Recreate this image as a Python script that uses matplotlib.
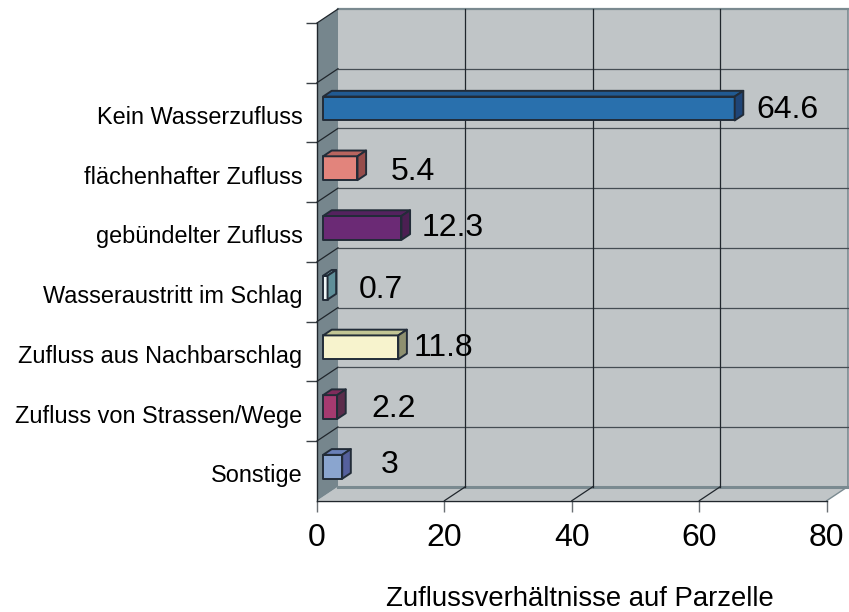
import matplotlib
matplotlib.use("Agg")
import matplotlib.pyplot as plt
from matplotlib.patches import Polygon

plt.rcParams['font.family'] = ['Liberation Sans', 'DejaVu Sans']

# Chart data, bottom to top
categories = ['Sonstige', 'Zufluss von Strassen/Wege', 'Zufluss aus Nachbarschlag',
              'Wasseraustritt im Schlag', 'gebündelter Zufluss',
              'flächenhafter Zufluss', 'Kein Wasserzufluss']
values = [3, 2.2, 11.8, 0.7, 12.3, 5.4, 64.6]
value_text = ['3', '2.2', '11.8', '0.7', '12.3', '5.4', '64.6']
x_ticks = [0, 20, 40, 60, 80]
x_title = 'Zuflussverhältnisse auf Parzelle'

# Bar colours: front, top, side
front_colors = ['#8aa5cf', '#a53a70', '#f7f3cd', '#eef4f5', '#6b2a75', '#e2847c', '#2970ad']
top_colors = ['#6a80b8', '#7f2c5c', '#c2c594', '#8fbcc0', '#54225e', '#b8655f', '#215a92']
side_colors = ['#55609c', '#5b2c4b', '#8e9070', '#5f8f99', '#4b1f52', '#964d4b', '#1f4577']

# Data labels sit by hand in the original (pixels from bar end)
label_dx = [39, 48, 37, 45, 43, 47, 44]
label_dy = [-4, -8, -6, -8, -6, -10, -7]

WALL = '#c0c5c7'
SIDE = '#76868d'
EDGE = '#7a8a90'
DARK = '#20262c'
BAR_EDGE = '#222c38'

# 3D depth of the chart box in data units
DEPTH_X = 21 / 6.369
DEPTH_Y = 14 / 59.7


def project(v, c, d):
    return (v + d * DEPTH_X, c + d * DEPTH_Y)


fig = plt.figure(figsize=(8.49, 6.12), dpi=100)
ax = fig.add_axes([317 / 849, (612 - 500.7) / 612, 509.7 / 849, 477.7 / 612])
ax.set_xlim(0, 80)
ax.set_ylim(0, 8)
ax.patch.set_visible(False)
for s in ['top', 'right']:
    ax.spines[s].set_visible(False)
for s in ['left', 'bottom']:
    ax.spines[s].set_color(DARK)
    ax.spines[s].set_linewidth(1.0)
    ax.spines[s].set_zorder(6)


def face(points, color, edge='none', lw=0.0, z=1):
    ax.add_patch(Polygon(points, closed=True, facecolor=color, edgecolor=edge,
                         linewidth=lw, clip_on=False, zorder=z, joinstyle='round'))


def line(a, b, color, lw=1.0, z=2):
    ax.plot([a[0], b[0]], [a[1], b[1]], color=color, lw=lw, clip_on=False, zorder=z)


# Box walls
face([project(0, 0, 1), project(80, 0, 1), project(80, 8, 1), project(0, 8, 1)], WALL)
face([project(0, 0, 0), project(80, 0, 0), project(80, 0, 1), project(0, 0, 1)], WALL)
face([project(0, 0, 0), project(0, 0, 1), project(0, 8, 1), project(0, 8, 0)], SIDE)
line(project(0, 8, 1), project(80, 8, 1), EDGE, 1.6)
line(project(80, 0, 1), project(80, 8, 1), EDGE, 1.2)
line(project(0, 0, 1), project(80, 0, 1), EDGE, 2.2)
line(project(80, 0, 0), project(80, 0, 1), EDGE, 1.0)

# Gridlines on the walls
for c in range(1, 9):
    line(project(0, c, 0), project(0, c, 1), DARK, 0.9)
    if c < 8:
        line(project(0, c, 1), project(80, c, 1), '#454d53', 0.9)
for v in x_ticks[1:-1]:
    line(project(v, 0, 1), project(v, 8, 1), DARK, 0.9)
    line(project(v, 0, 0), project(v, 0, 1), DARK, 0.9)

# Bars
d0, d1 = 0.29, 0.70
for i, val in enumerate(values):
    lo, hi = i + 0.3, i + 0.7
    face([project(0, lo, d0), project(val, lo, d0), project(val, hi, d0), project(0, hi, d0)],
         front_colors[i], BAR_EDGE, 1.4, 4)
    face([project(0, hi, d0), project(val, hi, d0), project(val, hi, d1), project(0, hi, d1)],
         top_colors[i], BAR_EDGE, 1.4, 4)
    face([project(val, lo, d0), project(val, lo, d1), project(val, hi, d1), project(val, hi, d0)],
         side_colors[i], BAR_EDGE, 1.4, 4)
    end = project(val, i + 0.5, d1)
    ax.annotate(value_text[i], xy=end, xytext=(label_dx[i], label_dy[i]),
                textcoords='offset pixels', ha='center', va='center',
                fontsize=23, color='black', zorder=7, annotation_clip=False)

# Axes ticks and labels
ax.set_xticks(x_ticks)
ax.tick_params(axis='x', length=8, width=1.0, color='#6a6f73', labelsize=23, pad=8)
ax.set_yticks(range(1, 9))
ax.set_yticklabels([])
ax.tick_params(axis='y', which='major', length=8, width=1.0, color='#3a4045')
ax.set_yticks([i + 0.46 for i in range(len(categories))], minor=True)
ax.set_yticklabels(categories, minor=True)
ax.tick_params(axis='y', which='minor', length=0, labelsize=16.9, pad=10.5)
ax.set_xlabel(x_title, fontsize=19.8, labelpad=24, x=0.515)

fig.savefig('out.png', dpi=100)
